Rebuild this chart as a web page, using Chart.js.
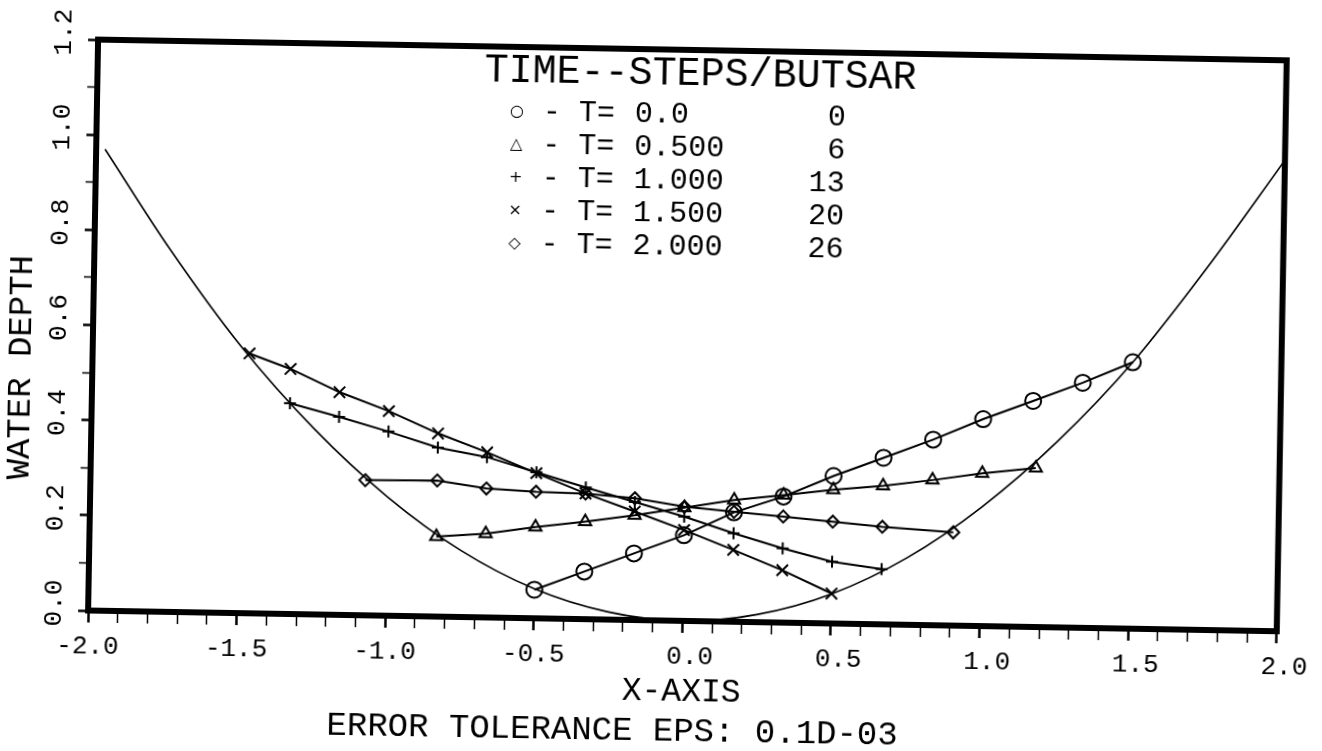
<!DOCTYPE html>
<html>
<head>
<meta charset="utf-8">
<title>Water depth</title>
<script src="https://cdn.jsdelivr.net/npm/chart.js@4.4.1/dist/chart.umd.min.js"></script>
<style>
  html, body { margin: 0; padding: 0; background: #fff; overflow: hidden; }
  #marco { width: 1322px; height: 751px; transform-origin: 692px 336px; transform: rotate(1deg); }
</style>
</head>
<body>
<div id="marco"><canvas id="grafico" width="1322" height="751"></canvas></div>
<script>
// perfil del fondo (linea continua)
const bedX = [-1.97, -1.75, -1.5, -1.25, -1.0, -0.75, -0.5, -0.25, 0.0, 0.25, 0.5, 0.75, 1.0, 1.25, 1.5, 1.75, 2.0];
const bedY = [0.97, 0.766, 0.56, 0.39, 0.25, 0.14, 0.062, 0.016, 0.0, 0.016, 0.062, 0.14, 0.25, 0.39, 0.56, 0.766, 0.99];

// T = 0.0 (circulos)
const xT0 = [-0.5, -0.333, -0.167, 0.0, 0.167, 0.333, 0.5, 0.667, 0.833, 1.0, 1.167, 1.333, 1.5];
const yT0 = [0.06, 0.10, 0.14, 0.18, 0.23, 0.265, 0.31, 0.35, 0.39, 0.435, 0.475, 0.515, 0.56];

// T = 0.5 (triangulos)
const xT05 = [-0.833, -0.667, -0.5, -0.333, -0.167, 0.0, 0.167, 0.333, 0.5, 0.667, 0.833, 1.0, 1.18];
const yT05 = [0.168, 0.176, 0.192, 0.205, 0.22, 0.238, 0.256, 0.268, 0.281, 0.291, 0.305, 0.321, 0.334];

// T = 1.0 (+)
const xT10 = [-1.333, -1.167, -1.0, -0.833, -0.667, -0.5, -0.333, -0.167, 0.0, 0.167, 0.333, 0.5, 0.667];
const yT10 = [0.443, 0.416, 0.387, 0.355, 0.337, 0.307, 0.277, 0.248, 0.219, 0.186, 0.156, 0.130, 0.116];

// T = 1.5 (x)
const xT15 = [-1.472, -1.333, -1.167, -1.0, -0.833, -0.667, -0.5, -0.333, -0.167, 0.0, 0.167, 0.333, 0.5];
const yT15 = [0.546, 0.515, 0.468, 0.430, 0.385, 0.347, 0.305, 0.264, 0.228, 0.191, 0.151, 0.110, 0.063];

// T = 2.0 (rombos)
const xT20 = [-1.075, -0.833, -0.667, -0.5, -0.333, -0.167, 0.0, 0.167, 0.333, 0.5, 0.667, 0.906];
const yT20 = [0.284, 0.286, 0.271, 0.266, 0.264, 0.256, 0.240, 0.231, 0.223, 0.214, 0.205, 0.196];

// leyenda
const legendTitle = "TIME--STEPS/BUTSAR";
const legendMarks = ["\u25CB", "\u25B3", "+", "\u00D7", "\u25C7"];
const legendTimes = ["0.0", "0.500", "1.000", "1.500", "2.000"];
const legendSteps = ["0", "6", "13", "20", "26"];

const xTitle = "X-AXIS";
const yTitle = "WATER DEPTH";
const footNote = "ERROR TOLERANCE EPS: 0.1D-03";

const FUENTE = '"Liberation Mono", "DejaVu Sans Mono", monospace';

function puntos(xs, ys) {
  return xs.map((x, i) => ({ x: x, y: ys[i] }));
}

function serie(label, xs, ys, estilo, radio) {
  return {
    label: label,
    data: puntos(xs, ys),
    showLine: true,
    borderColor: "#000",
    backgroundColor: "rgba(0,0,0,0)",
    borderWidth: 2,
    pointStyle: estilo,
    pointRadius: radio,
    pointBorderWidth: 2,
    pointBorderColor: "#000",
    pointBackgroundColor: "rgba(0,0,0,0)",
    tension: 0
  };
}

const marcoPlugin = {
  id: "marco",
  afterDraw(chart) {
    const { ctx, chartArea: a } = chart;
    ctx.save();
    ctx.strokeStyle = "#000";
    ctx.lineWidth = 6;
    ctx.strokeRect(a.left, a.top, a.right - a.left, a.bottom - a.top);
    ctx.restore();
  }
};

const textosPlugin = {
  id: "textos",
  afterDraw(chart) {
    const ctx = chart.ctx;
    ctx.save();
    ctx.fillStyle = "#000";
    ctx.textBaseline = "middle";

    // titulo de la leyenda
    ctx.font = "40px " + FUENTE;
    ctx.textAlign = "left";
    ctx.fillText(legendTitle, 480, 74);

    for (let i = 0; i < legendTimes.length; i++) {
      const y = 115 + i * 33;
      ctx.font = "16px 'DejaVu Sans'";
      ctx.textAlign = "center";
      ctx.fillText(legendMarks[i], 513, y);
      ctx.font = "30px " + FUENTE;
      ctx.textAlign = "left";
      ctx.fillText("- T=", 539, y);
      ctx.fillText(legendTimes[i], 631, y);
      ctx.textAlign = "right";
      ctx.fillText(legendSteps[i], 842, y);
    }

    // titulo del eje y
    ctx.save();
    ctx.translate(22, 379);
    ctx.rotate(-Math.PI / 2);
    ctx.font = "34px " + FUENTE;
    ctx.textAlign = "center";
    ctx.fillText(yTitle, 0, 0);
    ctx.restore();

    // nota al pie
    ctx.font = "34px " + FUENTE;
    ctx.textAlign = "center";
    ctx.fillText(footNote, 619, 732);
    ctx.restore();
  }
};

function crearGrafico() {
  new Chart(document.getElementById("grafico"), {
    type: "scatter",
    data: {
      datasets: [
        {
          label: "fondo",
          data: puntos(bedX, bedY),
          showLine: true,
          borderColor: "#000",
          borderWidth: 1.6,
          pointRadius: 0,
          cubicInterpolationMode: "monotone"
        },
        serie("T= 0.0", xT0, yT0, "circle", 8),
        serie("T= 0.500", xT05, yT05, "triangle", 7),
        serie("T= 1.000", xT10, yT10, "cross", 6),
        serie("T= 1.500", xT15, yT15, "crossRot", 8),
        serie("T= 2.000", xT20, yT20, "rectRot", 6)
      ]
    },
    options: {
      responsive: false,
      animation: false,
      layout: { padding: { left: 0, right: 31, top: 50, bottom: 0 } },
      plugins: {
        legend: { display: false },
        tooltip: { enabled: false }
      },
      scales: {
        x: {
          type: "linear",
          min: -2,
          max: 2,
          border: { display: false },
          grid: {
            drawOnChartArea: false,
            tickLength: 12,
            tickColor: "#000",
            tickWidth: (c) => (Math.round(c.tick.value * 10) % 5 === 0 ? 2.5 : 1.5)
          },
          ticks: {
            stepSize: 0.1,
            autoSkip: false,
            maxRotation: 0,
            padding: 9,
            color: "#000",
            font: { family: FUENTE, size: 26 },
            callback: (v) => {
              if (Math.round(v * 10) % 5 !== 0) return "";
              const t = v.toFixed(1);
              return v < 0 ? t : " " + t;
            }
          },
          title: {
            display: true,
            text: xTitle,
            color: "#000",
            font: { family: FUENTE, size: 33 },
            padding: { top: 0, bottom: 39 }
          },
          afterFit: (s) => { s.height = 130; }
        },
        y: {
          type: "linear",
          min: 0,
          max: 1.2,
          border: { display: false },
          grid: {
            drawOnChartArea: false,
            tickLength: 10,
            tickColor: "#000",
            tickWidth: (c) => (Math.round(c.tick.value * 10) % 2 === 0 ? 2.5 : 1.5)
          },
          ticks: {
            stepSize: 0.1,
            autoSkip: false,
            minRotation: 90,
            maxRotation: 90,
            crossAlign: "center",
            padding: 0,
            labelOffset: -7,
            color: "#000",
            font: { family: FUENTE, size: 26 },
            callback: (v) => (Math.round(v * 10) % 2 === 0 ? v.toFixed(1) : "")
          },
          afterFit: (s) => { s.width = 93; }
        }
      }
    },
    plugins: [marcoPlugin, textosPlugin]
  });
}

crearGrafico();
</script>
</body>
</html>
